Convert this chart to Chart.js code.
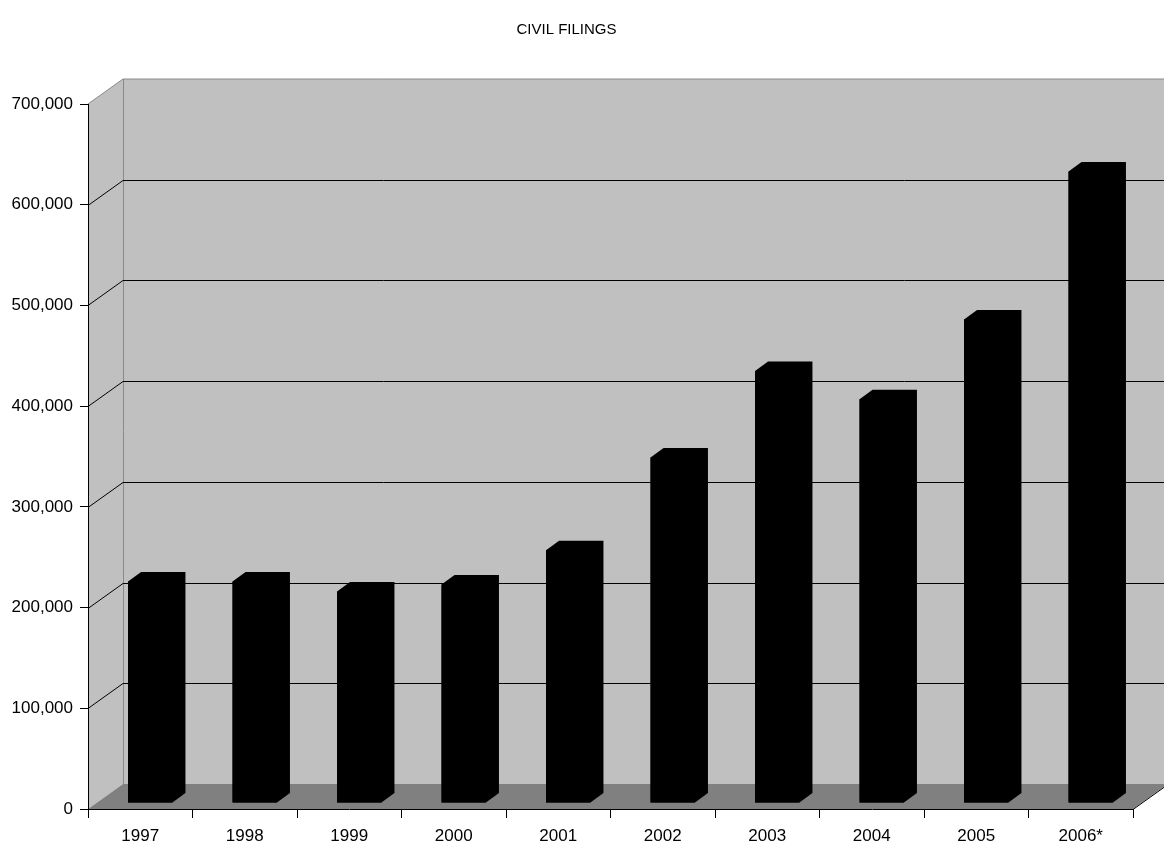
<!DOCTYPE html>
<html>
<head>
<meta charset="utf-8">
<title>Civil Filings</title>
<script src="https://cdn.jsdelivr.net/npm/chart.js@4.4.1/dist/chart.umd.min.js"></script>
<style>
  html, body { margin: 0; padding: 0; background: #ffffff; }
  #wrap { position: relative; width: 1164px; height: 844px; }
</style>
</head>
<body>
<div id="wrap"><canvas id="chart"></canvas></div>
<script>
// Filing years and yearly civil filing counts
const years = ['1997', '1998', '1999', '2000', '2001', '2002', '2003', '2004', '2005', '2006*'];
const civilFilings = [220000, 220000, 210000, 217000, 251000, 343000, 429000, 401000, 480000, 627000];
const yTickValues = [0, 100000, 200000, 300000, 400000, 500000, 600000, 700000];
const yTickLabels = ['0', '100,000', '200,000', '300,000', '400,000', '500,000', '600,000', '700,000'];

// Oblique 3D projection settings
const WALL_DX = 35, WALL_DY = -25;     // depth of the chart box
const BAR_DX = 10, BAR_DY = -6;        // front face of each column inside the box
const COL_DX = 13, COL_DY = -9.5;      // thickness of each column
const FONT = 'Liberation Sans, Arial, sans-serif';

const boxFrame = {
  id: 'boxFrame',
  beforeDraw(chart) {
    const { ctx, chartArea, scales } = chart;
    const { left, right, top, bottom } = chartArea;
    const y = scales.y;
    ctx.save();
    // back wall and left side wall
    ctx.fillStyle = '#c0c0c0';
    ctx.fillRect(left + WALL_DX, top + WALL_DY, right - left, bottom - top);
    ctx.beginPath();
    ctx.moveTo(left, top);
    ctx.lineTo(left + WALL_DX, top + WALL_DY);
    ctx.lineTo(left + WALL_DX, bottom + WALL_DY);
    ctx.lineTo(left, bottom);
    ctx.closePath();
    ctx.fill();
    // floor
    ctx.fillStyle = '#808080';
    ctx.beginPath();
    ctx.moveTo(left, bottom);
    ctx.lineTo(left + WALL_DX, bottom + WALL_DY);
    ctx.lineTo(right + WALL_DX, bottom + WALL_DY);
    ctx.lineTo(right, bottom);
    ctx.closePath();
    ctx.fill();
    // wall edges
    ctx.strokeStyle = '#8a8a8a';
    ctx.lineWidth = 1;
    ctx.beginPath();
    ctx.moveTo(left + WALL_DX + 0.5, top + WALL_DY);
    ctx.lineTo(left + WALL_DX + 0.5, bottom + WALL_DY);
    ctx.moveTo(left, top);
    ctx.lineTo(left + WALL_DX, top + WALL_DY);
    ctx.lineTo(right + WALL_DX, top + WALL_DY);
    ctx.stroke();
    // gridlines on the back wall and the side wall
    ctx.strokeStyle = '#000000';
    ctx.beginPath();
    y.ticks.forEach(t => {
      if (t.value <= y.min || t.value >= y.max) return;
      const py = Math.round(y.getPixelForValue(t.value)) + 0.5;
      ctx.moveTo(left, py);
      ctx.lineTo(left + WALL_DX, py + WALL_DY);
      ctx.lineTo(right + WALL_DX, py + WALL_DY);
    });
    // right edge of the floor
    ctx.moveTo(right, bottom + 0.5);
    ctx.lineTo(right + WALL_DX, bottom + WALL_DY + 0.5);
    ctx.stroke();
    ctx.restore();
  },
  beforeDatasetsDraw(chart) {
    chart.ctx.save();
    chart.ctx.translate(BAR_DX, BAR_DY);
  },
  afterDatasetsDraw(chart) {
    const ctx = chart.ctx;
    // solid column outline: front face plus top and right side
    chart.getDatasetMeta(0).data.forEach(bar => {
      const { x, y, base, width } = bar.getProps(['x', 'y', 'base', 'width'], true);
      const l = x - width / 2, r = x + width / 2;
      ctx.fillStyle = '#000000';
      ctx.beginPath();
      ctx.moveTo(l, base);
      ctx.lineTo(l, y);
      ctx.lineTo(l + COL_DX, y + COL_DY);
      ctx.lineTo(r + COL_DX, y + COL_DY);
      ctx.lineTo(r + COL_DX, base + COL_DY);
      ctx.lineTo(r, base);
      ctx.closePath();
      ctx.fill();
    });
    ctx.restore();
  }
};

new Chart(document.getElementById('chart'), {
  type: 'bar',
  data: {
    labels: years,
    datasets: [{
      label: 'Civil filings',
      data: civilFilings,
      backgroundColor: '#000000',
      borderWidth: 0,
      barPercentage: 0.425,
      categoryPercentage: 1.0,
      clip: false
    }]
  },
  options: {
    responsive: true,
    maintainAspectRatio: false,
    animation: false,
    layout: { padding: { left: 0, right: 31, top: 0, bottom: 0 } },
    plugins: {
      legend: { display: false },
      tooltip: { enabled: false },
      title: {
        display: true,
        text: 'CIVIL FILINGS',
        color: '#000000',
        font: { family: FONT, size: 15, weight: 'normal', lineHeight: 1.2 },
        padding: { top: 21, bottom: 65 }
      }
    },
    scales: {
      x: {
        offset: true,
        grid: { display: true, drawOnChartArea: false, drawTicks: true, tickLength: 9, color: '#000000', offset: true },
        border: { display: true, color: '#000000', width: 1 },
        ticks: { color: '#000000', font: { family: FONT, size: 17 }, padding: 8, maxRotation: 0, autoSkip: false },
        afterFit(scale) { scale.height = 35; }
      },
      y: {
        min: 0,
        max: 700000,
        afterBuildTicks(scale) { scale.ticks = yTickValues.map(v => ({ value: v })); },
        grid: { display: true, drawOnChartArea: false, drawTicks: true, tickLength: 8, color: '#000000' },
        border: { display: true, color: '#000000', width: 1 },
        ticks: {
          color: '#000000',
          font: { family: FONT, size: 17 },
          padding: 7,
          callback: (value) => yTickLabels[yTickValues.indexOf(value)]
        },
        afterFit(scale) { scale.width = 88; }
      }
    }
  },
  plugins: [boxFrame]
});
</script>
</body>
</html>
